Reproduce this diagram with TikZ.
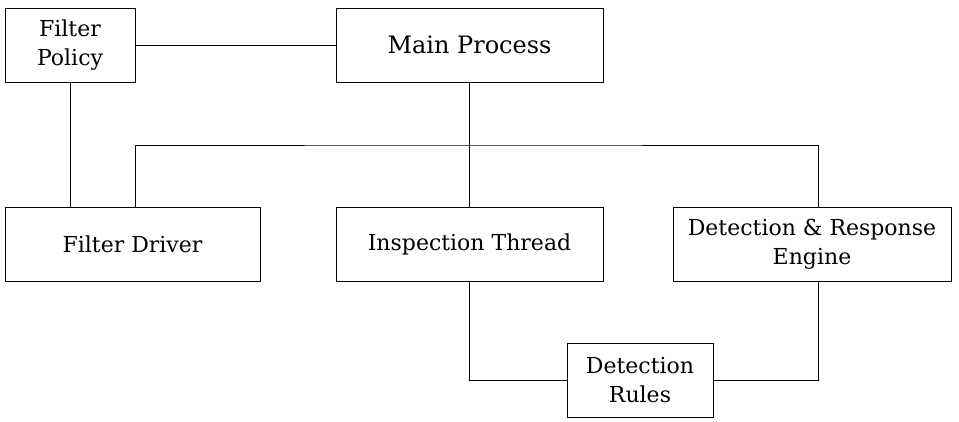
\documentclass[tikz,border=0pt]{standalone}
\usepackage{fontspec}
\setmainfont{DejaVu Serif}
\begin{document}
\begin{tikzpicture}[x=1pt,y=-1pt,
  box/.style={draw,line width=0.9pt,inner sep=0pt,align=center,font=\fontsize{22}{29}\selectfont},
  link/.style={line width=0.9pt}]
\useasboundingbox (0,0) rectangle (959,422);
\node[box,minimum width=130pt,minimum height=74pt] (fp) at (70,45) {Filter\\Policy};
\node[box,minimum width=267pt,minimum height=74pt,font=\fontsize{24}{29}\selectfont] (mp) at (469.5,45) {Main Process};
\node[box,minimum width=255pt,minimum height=74pt] (fd) at (132.5,244) {Filter Driver};
\node[box,minimum width=267pt,minimum height=74pt] (it) at (469.5,244) {Inspection Thread};
\node[box,minimum width=278pt,minimum height=74pt] (dre) at (812,244) {Detection \& Response\\Engine};
\node[box,minimum width=146pt,minimum height=74pt] (dr) at (640,380) {Detection\\Rules};
\coordinate (bus) at (0,145);
\draw[link] (fp) -- (mp);
\draw[link] (fp) -- (fp |- fd.north);
\draw[link] (mp) -- (it);
\draw[link] (fd.north -| 135,0) |- (bus -| 470,0) -| (dre.north -| 818,0);
\draw[link] (it.south -| 469,0) |- (dr.west);
\draw[link] (dre.south -| 818,0) |- (dr.east);
\end{tikzpicture}
\end{document}
